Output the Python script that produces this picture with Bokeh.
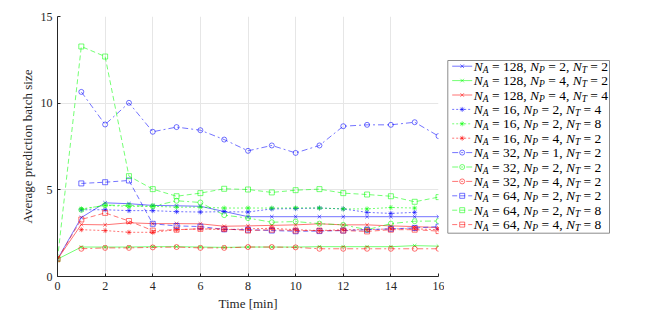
import math
from bokeh.plotting import figure
from bokeh.models import Range1d, ColumnDataSource, FixedTicker
from bokeh.layouts import row
from bokeh.core.properties import value
from bokeh.embed import file_html
from bokeh.resources import INLINE

nan = float("nan")
t = list(range(17))

s_128_2_2 = [1, 3.4, 4.25, 4.2, 4.1, 4.08, 4.05, 3.75, 3.45, 3.45, 3.45, 3.45, 3.45, 3.45, 3.45, 3.45, 3.45]
s_128_4_2 = [1, 1.7, 1.7, 1.7, 1.72, 1.72, 1.7, 1.68, 1.7, 1.7, 1.7, 1.72, 1.72, 1.72, 1.72, 1.78, 1.75]
s_128_4_4 = [1, 3.0, 2.98, 3.1, 3.05, 3.05, 3.04, 2.9, 2.92, 2.95, 2.98, 3.04, 2.98, 2.98, 2.92, 2.88, 2.82]
s_16_2_4 = [nan, 3.85, 3.85, 3.8, 3.8, 3.74, 3.72, 3.74, 3.72, 3.9, 3.92, 3.95, 3.9, 3.7, 3.64, 3.7, nan]
s_16_2_8 = [nan, 3.9, 4.1, 4.05, 4.05, 4.0, 4.0, 3.95, 3.95, 3.95, 3.96, 3.95, 3.9, 3.9, 3.98, 3.95, nan]
s_16_4_2 = [nan, 2.7, 2.65, 2.55, 2.55, 2.7, 2.75, 2.7, 2.75, 2.78, 2.7, 2.65, 2.7, 2.7, 2.75, 2.75, 2.7]
s_32_1_2 = [nan, 10.65, 8.77, 10.02, 8.35, 8.62, 8.44, 7.9, 7.25, 7.56, 7.13, 7.56, 8.67, 8.75, 8.75, 8.9, 8.1]
s_32_2_2 = [nan, 3.85, 4.12, 4.1, 4.05, 4.37, 4.27, 3.54, 3.37, 3.13, 3.17, 3.05, 2.98, 2.7, 3.05, 3.19, 3.2]
s_32_4_2 = [nan, 1.6, 1.65, 1.65, 1.68, 1.7, 1.65, 1.65, 1.7, 1.7, 1.68, 1.6, 1.6, 1.6, 1.6, 1.6, 1.6]
s_64_2_2 = [nan, 5.37, 5.44, 5.54, 3.04, 2.92, 2.88, 2.72, 2.7, 2.65, 2.61, 2.62, 2.65, 2.7, 2.75, 2.8, 2.88]
s_64_2_8 = [1, 13.27, 12.69, 5.79, 5.04, 4.63, 4.81, 5.06, 5.02, 4.85, 4.98, 5.04, 4.81, 4.73, 4.63, 4.31, 4.58]
s_64_4_8 = [1, 3.29, 3.67, 3.2, 2.65, 2.7, 2.75, 2.75, 2.65, 2.7, 2.65, 2.65, 2.65, 2.6, 2.7, 2.7, 2.62]

series = [s_128_2_2, s_128_4_2, s_128_4_4, s_16_2_4, s_16_2_8, s_16_4_2,
          s_32_1_2, s_32_2_2, s_32_4_2, s_64_2_2, s_64_2_8, s_64_4_8]
NA = [128, 128, 128, 16, 16, 16, 32, 32, 32, 64, 64, 64]
NP = [2, 4, 4, 2, 2, 4, 1, 2, 4, 2, 2, 4]
NT = [2, 2, 4, 4, 8, 2, 2, 2, 2, 2, 8, 8]

x_ticks = [0, 2, 4, 6, 8, 10, 12, 14, 16]
y_ticks = [0, 5, 10, 15]

colors = ["#0000ff", "#00ff00", "#ff0000"] * 4
dashes = ["solid"] * 3 + ["2 2"] * 3 + ["6 3 2 3"] * 3 + ["5 3"] * 3
markers = ["x"] * 3 + ["asterisk"] * 3 + ["circle"] * 3 + ["square"] * 3
ALPHA = 0.55

SERIF = "Liberation Serif"

TOP, FH, BOT = 16, 260, 33
FIG_H = TOP + FH + BOT
p = figure(frame_width=381, frame_height=FH, x_range=Range1d(0, 16), y_range=Range1d(0, 15),
           output_backend="svg", toolbar_location=None,
           min_border_left=57, min_border_right=6, min_border_top=TOP, min_border_bottom=BOT)
p.outline_line_color = None
p.background_fill_color = "white"
p.border_fill_color = "white"

for ax in (p.xaxis, p.yaxis):
    ax.major_label_text_font = SERIF
    ax.major_label_text_font_size = "12px"
    ax.major_label_text_color = "#262626"
    ax.axis_label_text_font = SERIF
    ax.axis_label_text_font_size = "13px"
    ax.axis_label_text_font_style = "normal"
    ax.axis_label_text_color = "#262626"
    ax.axis_line_color = "#262626"
    ax.major_tick_line_color = "#262626"
    ax.major_tick_in = 3
    ax.major_tick_out = 0
    ax.minor_tick_line_color = None
    ax.major_label_standoff = 5
    ax.axis_label_standoff = 3

p.xaxis.ticker = FixedTicker(ticks=x_ticks)
p.yaxis.ticker = FixedTicker(ticks=y_ticks)
p.xaxis.axis_label = "Time [min]"
p.yaxis.axis_label = "Average prediction batch size"
p.xgrid.ticker = FixedTicker(ticks=x_ticks)
p.ygrid.ticker = FixedTicker(ticks=y_ticks)
p.grid.grid_line_color = "#e6e6e6"
p.grid.grid_line_width = 1

for ys, c, d, m in zip(series, colors, dashes, markers):
    src = ColumnDataSource(dict(x=t, y=ys))
    p.line("x", "y", source=src, line_color=c, line_alpha=ALPHA, line_width=1, line_dash=d)
    p.scatter("x", "y", source=src, marker=m, size=5, line_color=c, line_alpha=ALPHA,
              fill_color=None, line_width=1)

# ---- legend panel: same vertical structure as the main figure, pixel-space ranges ----
LW = 196
lg = figure(frame_width=LW, frame_height=FH,
            x_range=Range1d(0, LW), y_range=Range1d(FIG_H - (TOP + FH), FIG_H - TOP),
            output_backend="svg", toolbar_location=None,
            min_border_left=0, min_border_right=0, min_border_top=TOP, min_border_bottom=BOT)
lg.axis.visible = False
lg.grid.visible = False
lg.outline_line_color = None
lg.background_fill_color = "white"
lg.border_fill_color = "white"

X0 = 444  # page x of legend panel's left edge


def py(page_y):
    return FIG_H - page_y


box_l, box_r = 447.3 - X0, 609 - X0
box_t, box_b = py(60), py(232.7)
lg.quad(left=[box_l], right=[box_r], top=[box_t], bottom=[box_b],
        fill_color="white", line_color="#8c8c8c", line_width=1)

FS, SS = 13.5, 9.5
NB = "\u00a0"
W_REG = {NB: 0.25, ",": 0.25, "=": 0.564}
for dch in "0123456789":
    W_REG[dch] = 0.5
W_IT = {"N": 0.667, "A": 0.611, "P": 0.611, "T": 0.556}

it_x, it_y, it_t = [], [], []
sub_x, sub_y, sub_t = [], [], []
reg_x, reg_y, reg_t = [], [], []

for i in range(12):
    yc = py(65.7 + 14.4 * i)
    x0, x1 = 451.7 - X0, 471.7 - X0
    lg.line([x0, x1], [yc, yc], line_color=colors[i], line_alpha=ALPHA, line_dash=dashes[i])
    lg.scatter([(x0 + x1) / 2], [yc], marker=markers[i], size=5, line_color=colors[i],
               line_alpha=ALPHA, fill_color=None)
    sub_c = yc - 3.5
    x = 473.3 - X0
    parts = [("N", "A", NB + "=" + NB + "%d," % NA[i] + NB),
             ("N", "P", NB + "=" + NB + "%d," % NP[i] + NB),
             ("N", "T", NB + "=" + NB + "%d" % NT[i])]
    for big, sub, rest in parts:
        it_x.append(x); it_y.append(yc); it_t.append(big)
        x += W_IT[big] * FS
        sub_x.append(x); sub_y.append(sub_c); sub_t.append(sub)
        x += W_IT[sub] * SS
        reg_x.append(x); reg_y.append(yc); reg_t.append(rest)
        x += sum(W_REG[ch] for ch in rest) * FS

common = dict(text_font=value(SERIF), text_baseline="middle", text_align="left", text_color="black")
lg.text(x=it_x, y=it_y, text=it_t, text_font_style="italic", text_font_size="%.1fpx" % FS, **common)
lg.text(x=sub_x, y=sub_y, text=sub_t, text_font_style="italic", text_font_size="%.1fpx" % SS, **common)
lg.text(x=reg_x, y=reg_y, text=reg_t, text_font_style="normal", text_font_size="%.1fpx" % FS, **common)

layout = row(p, lg)
open("out.html", "w").write(file_html(layout, INLINE))
